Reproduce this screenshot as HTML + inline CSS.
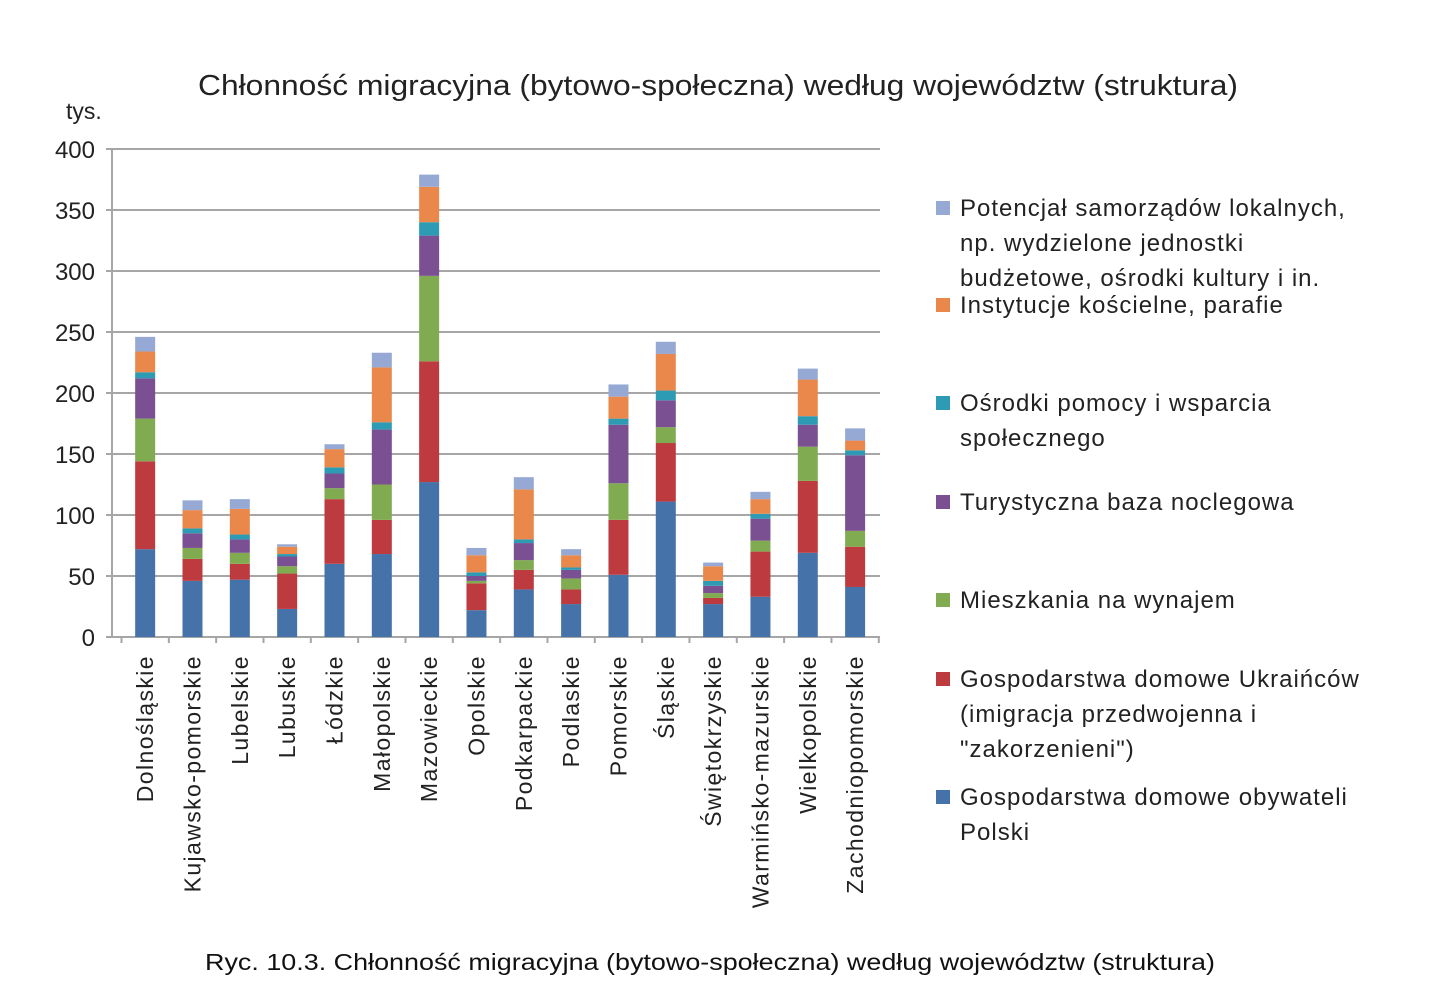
<!DOCTYPE html>
<html><head><meta charset="utf-8"><style>
body{margin:0;background:#fff;}
svg{display:block;font-family:"Liberation Sans",sans-serif;}
</style></head><body>
<svg id="chart" width="1450" height="1006" viewBox="0 0 1450 1006">
<rect width="1450" height="1006" fill="#fff"/>
<text x="198" y="95" font-size="29" fill="#222" textLength="1040" lengthAdjust="spacingAndGlyphs">Chłonność migracyjna (bytowo-społeczna) według województw (struktura)</text>
<text x="66" y="119" font-size="23" fill="#222">tys.</text>
<g id="grid"></g><g id="bars"></g><g id="xlabels"></g><g id="legend"></g>
<text x="205" y="970" font-size="23" fill="#111" textLength="1010" lengthAdjust="spacingAndGlyphs">Ryc. 10.3. Chłonność migracyjna (bytowo-społeczna) według województw (struktura)</text>
</svg>
<script>
const categories=["Dolnośląskie","Kujawsko-pomorskie","Lubelskie","Lubuskie","Łódzkie","Małopolskie","Mazowieckie","Opolskie","Podkarpackie","Podlaskie","Pomorskie","Śląskie","Świętokrzyskie","Warmińsko-mazurskie","Wielkopolskie","Zachodniopomorskie"];
const obywatele=[72,46,47,23,60,68,127,22,39,27,51,111,27,33,69,41];
const ukraincy=[72,18,13,29,53,28,99,22,16,12,45,48,5,37,59,33];
const mieszkania=[35,9,9,6,9,29,70,2,8,9,30,13,4,9,28,13];
const turystyczna=[33,12,11,8,12,45,33,4,14,7,48,22,6,18,18,62];
const osrodki=[5,4,4,2,5,6,11,3,3,2,5,8,4,4,7,4];
const koscielne=[17,15,21,6,15,45,29,14,41,10,18,30,12,12,30,8];
const samorzady=[12,8,8,2,4,12,10,6,10,5,10,10,3,6,9,10];
const yTicks=[0,50,100,150,200,250,300,350,400];
const seriesNames=["Gospodarstwa domowe obywateli Polski","Gospodarstwa domowe Ukraińców","Mieszkania na wynajem","Turystyczna baza noclegowa","Ośrodki pomocy i wsparcia społecznego","Instytucje kościelne, parafie","Potencjał samorządów lokalnych"];
const series=[obywatele,ukraincy,mieszkania,turystyczna,osrodki,koscielne,samorzady];
const colors=["#4672aa","#bd3a3f","#80ab50","#7a5092","#2c9bb3","#e9884a","#96a9d4"];
const NS="http://www.w3.org/2000/svg";
const X0=112,X1=880,Y0=637,Y1=149,MAX=400;
const XB=121.5,band=47.33;
const y=v=>Y0-(v/MAX)*(Y0-Y1);
const xc=i=>XB+band*(i+0.5);
function mk(t,a,p){const e=document.createElementNS(NS,t);for(const k in a)e.setAttribute(k,a[k]);p.appendChild(e);return e;}
const grid=document.getElementById('grid');
yTicks.forEach(t=>{
 const l=mk('line',{x1:X0-6,x2:X1,y1:y(t),y2:y(t),stroke:'#a6a6a6','stroke-width':2},grid);
 
 
 const tx=mk('text',{x:95,y:y(t)+9,'text-anchor':'end','font-size':24,fill:'#222'},grid);
 tx.textContent=t;
 
 
});
const ax=mk('line',{x1:X0,x2:X0,y1:Y1,y2:Y0,stroke:'#a6a6a6','stroke-width':2},grid);


for(let i=0;i<=categories.length;i++){
 const tk=mk('line',{x1:XB+band*i,x2:XB+band*i,y1:Y0,y2:Y0+6,stroke:'#a6a6a6','stroke-width':2},grid);
 
 
}
const bars=document.getElementById('bars');
const xl=document.getElementById('xlabels');
categories.forEach((c,i)=>{
 let cum=0;
 series.forEach((s,k)=>{
  const v=s[i];
  const r=mk('rect',{x:xc(i)-10,width:20,y:y(cum+v),height:y(cum)-y(cum+v),fill:colors[k]},bars);
  
  
  cum+=v;
 });
 const t=mk('text',{'font-size':23,'letter-spacing':1.4,fill:'#222','text-anchor':'end',transform:`translate(${xc(i)+8},655) rotate(-90)`},xl);
 t.textContent=c;
 
 
});
const leg=document.getElementById('legend');
const legItems=[
 [6,208,["Potencjał samorządów lokalnych,","np. wydzielone jednostki","budżetowe, ośrodki kultury i in."]],
 [5,305,["Instytucje kościelne, parafie"]],
 [4,403,["Ośrodki pomocy i wsparcia","społecznego"]],
 [3,502,["Turystyczna baza noclegowa"]],
 [2,600,["Mieszkania na wynajem"]],
 [1,679,["Gospodarstwa domowe Ukraińców","(imigracja przedwojenna i","\"zakorzenieni\")"]],
 [0,797,["Gospodarstwa domowe obywateli","Polski"]]
];
legItems.forEach(([k,yy,lines])=>{
 const g=mk('g',{},leg);
 
 
 mk('rect',{x:936,y:yy-7,width:14,height:14,fill:colors[k]},g);
 lines.forEach((ln,j)=>{
  const t=mk('text',{x:960,y:yy+8+j*35,'font-size':24,'letter-spacing':1,fill:'#222'},g);
  t.textContent=ln;
 });
});
</script>
</body></html>
